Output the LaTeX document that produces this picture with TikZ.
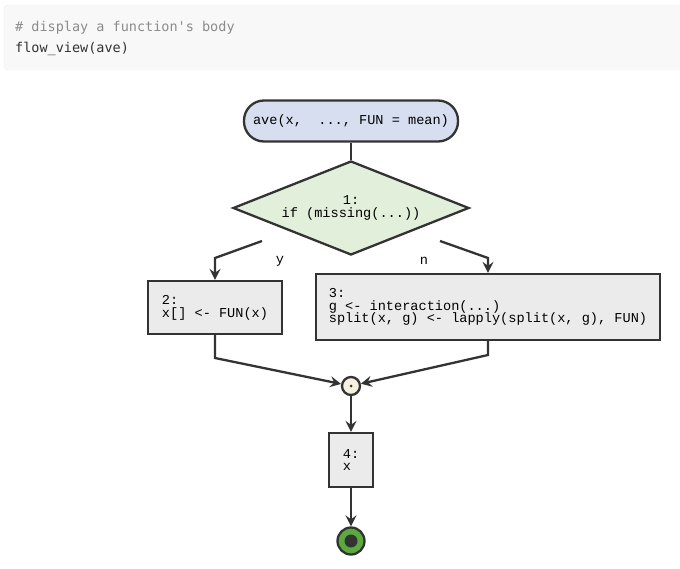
\documentclass[tikz,border=0pt]{standalone}
\usepackage{fontspec}
\usepackage{tikz}
\usetikzlibrary{shapes.geometric,arrows.meta}
\newfontfamily\flowfont{Liberation Mono}
\newfontfamily\mdfont{DejaVu Sans Mono}
\definecolor{linegray}{HTML}{333333}
\definecolor{boxgray}{HTML}{EBEBEB}
\definecolor{startblue}{HTML}{D6DEEF}
\definecolor{ifgreen}{HTML}{E2EFDA}
\definecolor{joinyellow}{HTML}{F4F1DF}
\definecolor{endgreen}{HTML}{5CAA3E}
\definecolor{codebg}{HTML}{F8F8F8}
\definecolor{codeframe}{HTML}{EDEDED}
\definecolor{commentgray}{HTML}{8C8C8C}

\begin{document}
\begin{tikzpicture}[x=1pt,y=-1pt]
\tikzstyle{every node}+=[inner sep=0pt]
\tikzstyle{flowtext}=[font=\flowfont\fontsize{13.6}{12.8}\selectfont]
\tikzstyle{stmt}=[flowtext, draw=linegray, line width=2.3pt, fill=boxgray, align=left]
\tikzstyle{edge}=[draw=linegray, line width=2.3pt, -{Stealth[length=11pt,width=11pt,inset=4pt]}]
\tikzstyle{plain}=[draw=linegray, line width=2.3pt]
\useasboundingbox (0,0) rectangle (680,569);
\fill [codebg, draw=codeframe, rounded corners=4pt] (4,5) rectangle (690,70);
\node [anchor=base west, font=\mdfont\fontsize{13.5}{15}\selectfont, text=commentgray] (comment) at (15,32) {\# display a function\textquotesingle s body};
\node [anchor=base west, font=\mdfont\fontsize{13.5}{15}\selectfont, text=linegray] (call) at (15,53) {flow\_view(ave)};
\node [flowtext, draw=linegray, line width=2.3pt, fill=startblue, rounded corners=20pt, minimum width=214pt, minimum height=41pt] (start) at (351,121) {ave(x,~~...,~FUN~=~mean)};
\node [flowtext, shape=diamond, aspect=2.51, draw=linegray, line width=2.3pt, fill=ifgreen, minimum width=236pt, minimum height=94pt, align=center] (cond) at (351,208) {1:\\if (missing(...))};
\node [stmt, minimum width=134pt, minimum height=53pt] (yes) at (215,307.5) {2:\\x[] <- FUN(x)};
\node [stmt, minimum width=344pt, minimum height=66pt] (no) at (488,307) {3:\\g <- interaction(...)\\split(x, g) <- lapply(split(x, g), FUN)};
\node [circle, draw=linegray, line width=2.3pt, fill=joinyellow, minimum size=18pt] (join) at (351,386) {};
\fill [linegray] (join) circle (1.5);
\node [stmt, minimum width=44pt, minimum height=54pt] (ret) at (351,460) {4:\\x};
\node [circle, draw=linegray, line width=2.3pt, fill=endgreen, minimum size=27pt] (stop) at (351,541) {};
\fill [linegray] (stop) circle (6.5);
\coordinate (yfrom) at (262,241);
\coordinate (ybend) at (215,258);
\coordinate (nfrom) at (440,241);
\coordinate (nbend) at (488,258);
\coordinate (yjoin) at (215,358);
\coordinate (njoin) at (488,355);
\draw [plain] (start) -- (cond.north);
\draw [edge] (yfrom) -- (ybend) -- (yes.north);
\draw [edge] (nfrom) -- (nbend) -- (no.north);
\node [flowtext] (ylabel) at (280,261) {y};
\node [flowtext] (nlabel) at (424,261) {n};
\draw [edge] (yes.south) -- (yjoin) -- (join);
\draw [edge] (no.south) -- (njoin) -- (join);
\draw [edge] (join) -- (ret);
\draw [edge] (ret) -- (stop);
\end{tikzpicture}
\end{document}
